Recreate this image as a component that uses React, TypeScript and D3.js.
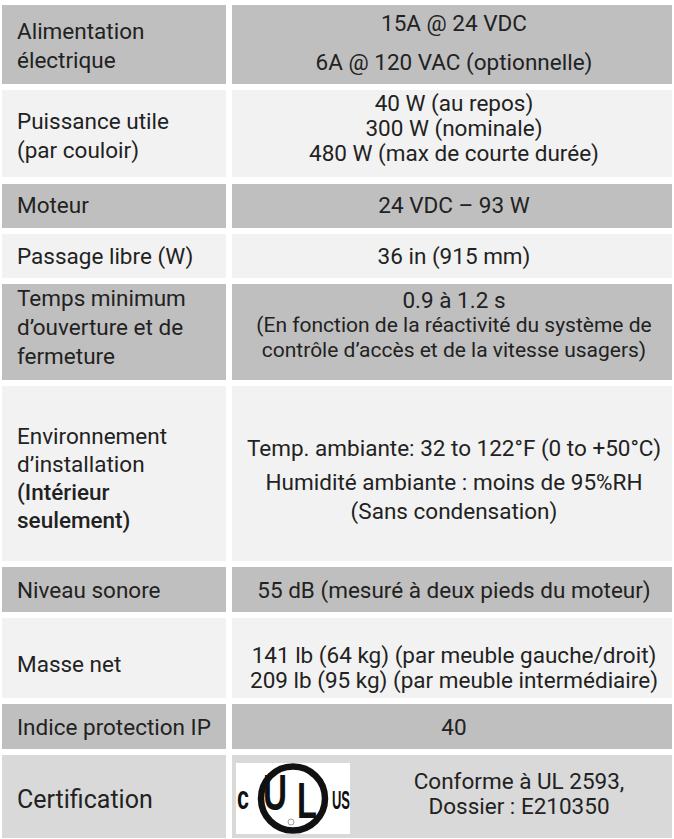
import React from "react";
import * as d3 from "d3";

const labels: string[][] = [
  ["Alimentation", "électrique"],
  ["Puissance utile", "(par couloir)"],
  ["Moteur"],
  ["Passage libre (W)"],
  ["Temps minimum", "d’ouverture et de", "fermeture"],
  ["Environnement", "d’installation", "**(Intérieur", "**seulement)"],
  ["Niveau sonore"],
  ["Masse net"],
  ["Indice protection IP"],
  ["Certification"],
];

const values: string[][] = [
  ["15A @ 24 VDC", "6A @ 120 VAC (optionnelle)"],
  ["40 W (au repos)", "300 W (nominale)", "480 W (max de courte durée)"],
  ["24 VDC – 93 W"],
  ["36 in (915 mm)"],
  ["0.9 à 1.2 s", "(En fonction de la réactivité du système de", "contrôle d’accès et de la vitesse usagers)"],
  ["Temp. ambiante: 32 to 122°F (0 to +50°C)", "Humidité ambiante : moins de 95%RH", "(Sans condensation)"],
  ["55 dB (mesuré à deux pieds du moteur)"],
  ["141 lb (64 kg) (par meuble gauche/droit)", "209 lb (95 kg) (par meuble intermédiaire)"],
  ["40"],
  ["Conforme à UL 2593,", "Dossier : E210350"],
];

// layout (pixel positions), kept separate from data
const rowBounds: [number, number][] = [
  [5, 84], [90, 177], [184, 228], [234, 278], [284, 380],
  [386, 561], [567, 612], [618, 698], [704, 749], [755, 838],
];
const leftY: number[][] = [
  [31, 60], [121, 150], [205], [256], [298, 327, 356],
  [436, 464, 492, 520], [590], [664], [727], [799],
];
const rightY: number[][] = [
  [23, 62], [103, 128, 153], [205], [256], [300, 325, 350],
  [448, 482, 511], [590], [655, 680], [727], [781, 806],
];
const rowFill = ["#bfbfbf", "#f2f2f2", "#bfbfbf", "#f2f2f2", "#bfbfbf", "#f2f2f2", "#bfbfbf", "#f2f2f2", "#bfbfbf", "#d9d9d9"];

const W = 674;
const H = 839;
const FONT = "Roboto, 'Noto Sans', sans-serif";
const LOGO_FONT = "'Liberation Sans Narrow', 'Liberation Sans', Arial, sans-serif";
const TEXT = "#222";

export default function App() {
  const col = d3.scaleOrdinal<string, [number, number]>().domain(["label", "value"]).range([[2, 226], [232, 672]]);
  const [lx0, lx1] = col("label");
  const [rx0, rx1] = col("value");
  const rightCx = 454;
  return (
    <svg width={W} height={H} style={{ position: "absolute", left: 0, top: 0, background: "#fff" }}>
      <rect x={0} y={0} width={W} height={H} fill="#fff" />
      {rowBounds.map(([t, b], i) => (
        <g key={i}>
          <rect x={lx0} y={t} width={lx1 - lx0} height={b - t} fill={rowFill[i]} />
          <rect x={rx0} y={t} width={rx1 - rx0} height={b - t} fill={rowFill[i]} />
          {labels[i].map((s, j) => {
            const bold = s.startsWith("**");
            return (
              <text
                key={"l" + j}
                x={17}
                y={leftY[i][j]}
                dominantBaseline="central"
                fontFamily={FONT}
                fontSize={i === 9 ? 25 : 22.5}
                fontWeight={bold ? 500 : 400}
                fill={TEXT}
              >
                {bold ? s.slice(2) : s}
              </text>
            );
          })}
          {values[i].map((s, j) => (
            <text
              key={"r" + j}
              x={i === 9 ? 519 : rightCx}
              y={rightY[i][j]}
              textAnchor="middle"
              dominantBaseline="central"
              fontFamily={FONT}
              fontSize={i === 4 && j > 0 ? 21 : 22.5}
              fill={TEXT}
            >
              {s}
            </text>
          ))}
        </g>
      ))}
      {/* UL logo */}
      <g>
        <rect x={236} y={763} width={114} height={71} fill="#fff" />
        <circle cx={293} cy={798.5} r={32} fill="none" stroke="#111" strokeWidth={6.5} />
        <text x={263} y={810} fontFamily={LOGO_FONT} fontWeight={700} fontSize={50} fill="#111" textLength={24} lengthAdjust="spacingAndGlyphs">U</text>
        <text x={297} y={818} fontFamily={LOGO_FONT} fontWeight={700} fontSize={50} fill="#111" textLength={20} lengthAdjust="spacingAndGlyphs">L</text>
        <circle cx={291} cy={822} r={3} fill="none" stroke="#888" strokeWidth={0.8} />
        <text x={237} y={809} fontFamily={LOGO_FONT} fontWeight={700} fontSize={34} fill="#111" textLength={12} lengthAdjust="spacingAndGlyphs">c</text>
        <text x={332} y={809} fontFamily={LOGO_FONT} fontWeight={700} fontSize={25} fill="#111" textLength={18} lengthAdjust="spacingAndGlyphs">US</text>
      </g>
    </svg>
  );
}
